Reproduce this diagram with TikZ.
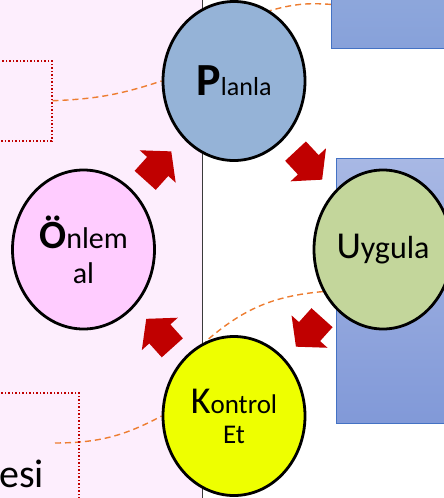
\documentclass[tikz,border=0pt]{standalone}
\usepackage{fontspec}
\setmainfont{Carlito}
\usepackage{tikz}
\usepackage{xcolor}
\usetikzlibrary{shapes.geometric,shapes.arrows,calc,backgrounds}
\definecolor{panelpink}{HTML}{FDEEFD}
\definecolor{panelline}{HTML}{3A3A3A}
\definecolor{planblue}{HTML}{95B3D7}
\definecolor{applygreen}{HTML}{C3D69B}
\definecolor{preventpink}{HTML}{FFCCFF}
\definecolor{checkyellow}{HTML}{EEFF00}
\definecolor{arrowred}{HTML}{C00000}
\definecolor{linkorange}{HTML}{ED7D31}
\definecolor{boxblue}{HTML}{4472C4}
\definecolor{goalstop}{HTML}{92ABDC}
\definecolor{goalsbottom}{HTML}{87A1DA}
\definecolor{stepstop}{HTML}{A8B8E4}
\definecolor{stepsbottom}{HTML}{8199D8}
\tikzset{
    phase-circle/.style = {draw=black, line width=2.8pt, ellipse, minimum width=142pt, minimum height=159pt, inner sep=0pt, align=center},
    cycle-arrow/.style = {single arrow, fill=arrowred, draw=none, minimum height=39pt, minimum width=48pt, single arrow head extend=10pt, single arrow tip angle=100, inner xsep=0pt, inner ysep=14pt},
    link-line/.style = {draw=linkorange, line width=1.4pt, dash pattern=on 6pt off 4pt},
    note-box/.style = {draw=arrowred, dotted, line width=1.5pt, anchor=north west},
    side-box/.style = {draw=boxblue, line width=0.8pt, anchor=north west},
}

\begin{document}
\begin{tikzpicture}[x=1pt, y=-1pt]
\clip (0,0) rectangle (444,498);
\begin{pgfonlayer}{background}
\fill[panelpink] (-5,-5) rectangle (202,503);
\draw[panelline, line width=0.9pt] (202,-5) -- (202,503);
\end{pgfonlayer}

\node[side-box, top color=goalstop, bottom color=goalsbottom, minimum width=130pt, minimum height=88pt] (goals) at (331,-40) {};
\node[side-box, top color=stepstop, bottom color=stepsbottom, minimum width=124pt, minimum height=265pt] (steps) at (336,158) {};
\node[note-box, minimum width=61pt, minimum height=80pt] (note-a) at (-10,60) {};
\node[note-box, minimum width=88pt, minimum height=130pt] (note-b) at (-10,392) {};
\node[anchor=base west, inner sep=0pt, font=\fontsize{40}{44}\selectfont] (title) at (-1,487) {esi};
\coordinate (note-b-link) at (55,443);

% circles
\node[phase-circle, fill=planblue] (plan) at (234,81) {\fontsize{46}{46}\selectfont\bfseries P\fontsize{26}{30}\selectfont\mdseries lanla};
\node[phase-circle, fill=applygreen, minimum width=138pt] (apply) at (383,249.5) {\fontsize{38}{38}\selectfont U\fontsize{32}{36}\selectfont ygula};
\node[phase-circle, fill=checkyellow, font=\fontsize{27}{30}\selectfont] (check) at (234,416) {{\fontsize{38}{30}\selectfont K}ontrol\\Et};
\node[phase-circle, fill=preventpink, font=\fontsize{30}{35}\selectfont] (prevent) at (83.5,249.5) {{\fontsize{40}{35}\selectfont\bfseries Ö}nlem\\al};

% dashed links, behind the circles
\begin{pgfonlayer}{background}
\draw[link-line] (note-a.east) to[bend right=8] (plan.west);
\draw[link-line] (goals.west) to[bend right=10] (plan.63);
\draw[link-line] (apply.215) to[bend right=18] (check.111);
\draw[link-line] (note-b-link) to[bend right=14] (check.west);
\end{pgfonlayer}

\node[cycle-arrow, rotate=48] (arr-pp) at ($(prevent)!0.47!(plan)$) {};
\node[cycle-arrow, rotate=-47] (arr-pa) at ($(plan)!0.475!(apply)$) {};
\node[cycle-arrow, rotate=-132] (arr-ac) at ($(apply)!0.47!(check)$) {};
\node[cycle-arrow, rotate=132] (arr-cp) at ($(check)!0.47!(prevent)$) {};
\end{tikzpicture}
\end{document}
